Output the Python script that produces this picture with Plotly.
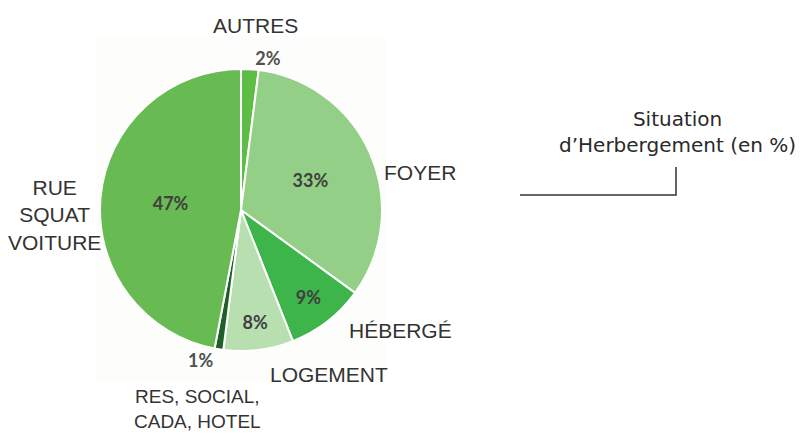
import plotly.graph_objects as go

categories = ["AUTRES", "FOYER", "HÉBERGÉ", "LOGEMENT", "RES, SOCIAL, CADA, HOTEL", "RUE SQUAT VOITURE"]
values = [2, 33, 9, 8, 1, 47]
colors = ["#5dbd47", "#93cf86", "#3db54a", "#b8dfb0", "#1f5f2a", "#68bb52"]
text_positions = ["outside", "inside", "inside", "inside", "outside", "inside"]

# display labels for the outer category names
label_texts = ["AUTRES", "FOYER", "HÉBERGÉ", "LOGEMENT", "RES, SOCIAL,<br>CADA, HOTEL", "RUE<br>SQUAT<br>VOITURE"]
label_xy = [(255, 25), (420, 172), (400, 330), (329, 374), (197, 409), (54, 215)]

W, H = 803, 435
cx, cy, r = 241, 210, 141

fig = go.Figure()
fig.add_trace(go.Pie(
    labels=categories,
    values=values,
    sort=False,
    direction="clockwise",
    rotation=0,
    marker=dict(colors=colors, line=dict(color="white", width=2)),
    texttemplate="%{value}%",
    textposition=text_positions,
    insidetextorientation="horizontal",
    textfont=dict(family="Lato, Open Sans, sans-serif", size=18, color="#404040", weight="bold"),
    outsidetextfont=dict(family="Lato, Open Sans, sans-serif", size=18, color="#505050", weight="bold"),
    showlegend=False,
    hoverinfo="label+percent",
    domain=dict(x=[(cx - r) / W, (cx + r) / W], y=[(H - cy - r) / H, (H - cy + r) / H]),
))

annotations = []
for i, (t, (x, y)) in enumerate(zip(label_texts, label_xy)):
    annotations.append(dict(
        x=x / W, y=1 - y / H, xref="paper", yref="paper", text=t, showarrow=False,
        font=dict(family="Liberation Sans, Arial, sans-serif", size=19 if i == 4 else 21, color="#333333"),
        xanchor="center", yanchor="middle", align="center",
    ))
annotations.append(dict(
    x=677 / W, y=1 - 132 / H, xref="paper", yref="paper",
    text="Situation<br>d’Herbergement (en %)", showarrow=False,
    font=dict(family="DejaVu Sans, sans-serif", size=20, color="#2a2a2a"),
    xanchor="center", yanchor="middle", align="center",
))

shapes = [
    dict(type="rect", xref="paper", yref="paper", layer="below",
         x0=96 / W, x1=386 / W, y0=1 - 382 / H, y1=1 - 36 / H,
         fillcolor="#fdfdfb", line=dict(width=0)),
    dict(type="path", xref="paper", yref="paper",
         path=f"M {520 / W} {1 - 195 / H} L {676 / W} {1 - 195 / H} L {676 / W} {1 - 167 / H}",
         line=dict(color="#333333", width=1.5)),
]

fig.update_layout(
    width=W, height=H,
    margin=dict(l=0, r=0, t=0, b=0),
    paper_bgcolor="white",
    plot_bgcolor="white",
    annotations=annotations,
    shapes=shapes,
)

fig.write_html("out.html", config={"displayModeBar": False},
               post_script="document.body.style.margin='0';document.body.style.overflow='hidden';")
